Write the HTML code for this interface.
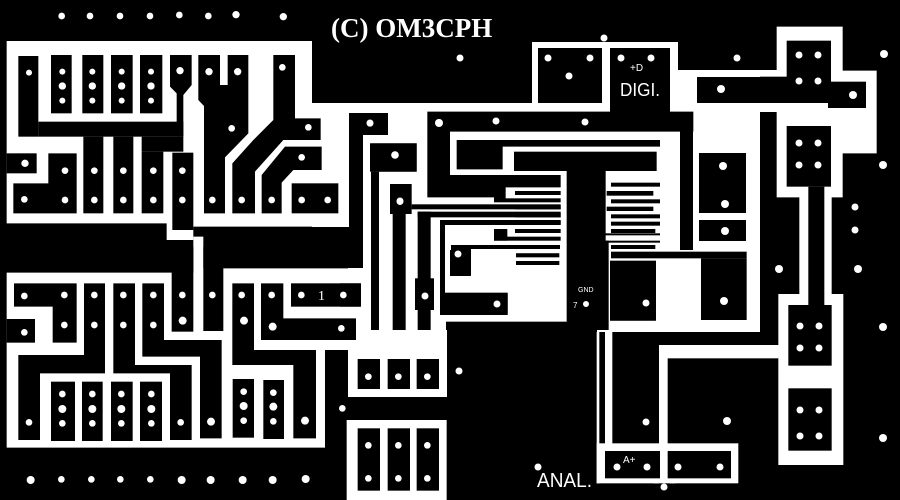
<!DOCTYPE html>
<html><head><meta charset="utf-8"><style>
html,body{margin:0;padding:0;background:#000;}
svg{display:block;}
text{fill:#fff;}
</style></head><body>
<svg width="900" height="500" viewBox="0 0 900 500" xmlns="http://www.w3.org/2000/svg">
<rect width="900" height="500" fill="#000"/>
<g fill="#fff">
  <g transform="scale(0.33333)">
    <polygon points="20,123 936,123 936,310 1045,310 1045,680 580,680 580,720 500,720 500,670 20,670"/>
  </g>
  <rect x="312" y="103" width="448" height="124"/>
  <rect x="348" y="103" width="412" height="229"/>
  <rect x="348" y="330" width="99" height="67"/>
  <rect x="532" y="42" width="146" height="70"/>
  <rect x="678" y="70" width="100" height="42"/>
  <g transform="translate(760,20) scale(0.33333)">
    <polygon points="50,20 248,20 248,152 350,152 350,400 248,400 248,532 215,532 215,822 250,822 250,1335 55,1335 55,1012 0,1012 0,975 55,975 55,822 118,822 118,532 50,532 50,150 0,150 0,275 50,275"/>
  </g>
  <g transform="translate(0,250) scale(0.33333)">
    <polygon points="20,68 580,68 580,-40 610,-40 610,55 1090,55 1090,0 1340,0 1340,440 1045,440 1045,300 975,300 975,593 20,593"/>
    <rect x="1040" y="510" width="300" height="240"/>
  </g>
  <g transform="translate(450,250) scale(0.33333)">
    <rect x="440" y="240" width="8" height="460"/>
    <rect x="465" y="240" width="22" height="345"/>
    <rect x="627" y="285" width="358" height="40"/>
    <rect x="627" y="285" width="26" height="320"/>
    <rect x="440" y="580" width="425" height="120"/>
    <polygon points="610,700 643,670 676,700 660,700 643,686 626,700"/>
  </g>
</g>

<g fill="#000">
  <g transform="scale(0.33333)">
    <rect x="55" y="168" width="60" height="242"/>
    <rect x="115" y="365" width="435" height="45"/>
    <rect x="153" y="165" width="62" height="175"/>
    <rect x="247" y="165" width="63" height="175"/>
    <rect x="333" y="165" width="65" height="175"/>
    <rect x="420" y="165" width="67" height="175"/>
    <polygon points="510,165 575,165 575,255 550,285 550,410 530,410 530,280 510,260"/>
    <rect x="250" y="410" width="60" height="230"/>
    <rect x="340" y="410" width="60" height="230"/>
    <rect x="425" y="410" width="125" height="45"/>
    <rect x="425" y="455" width="65" height="185"/>
    <rect x="517" y="458" width="63" height="232"/>
    <polygon points="40,550 145,550 145,460 230,460 230,640 40,640"/>
    <rect x="20" y="460" width="90" height="60"/>
    <polygon points="595,165 660,165 660,255 683,255 683,165 745,165 745,400 675,472 675,640 612,640 612,318 595,300"/>
    <polygon points="820,165 885,165 885,355 962,355 962,420 850,420 765,515 765,640 697,640 697,490 760,420 820,360"/>
    <polygon points="855,440 965,440 965,510 880,510 845,548 845,640 785,640 785,525"/>
    <rect x="875" y="550" width="140" height="90"/>
    <rect x="1110" y="430" width="140" height="85"/>
  </g>
  <rect x="349" y="113" width="39" height="22"/>
  <rect x="349" y="113" width="14" height="155"/>
  <rect x="330" y="227" width="33" height="41"/>
  <rect x="538" y="48" width="64" height="55"/>
  <rect x="610" y="48" width="60" height="64"/>
  <rect x="697" y="77" width="133" height="26"/>
  <rect x="828" y="82" width="38" height="26"/>
  <g transform="translate(340,110) scale(0.33333)">
    <polygon points="262,5 1060,5 1060,65 330,65 330,195 662,195 662,232 497,232 497,275 462,275 462,262 262,262"/>
    <polygon points="350,90 960,90 960,110 488,110 488,178 350,178"/>
    <rect x="522" y="125" width="428" height="58"/>
    <rect x="680" y="183" width="117" height="477"/>
    <rect x="525" y="243" width="137" height="12"/>
    <rect x="462" y="265" width="200" height="12"/>
    <rect x="525" y="287" width="137" height="11"/>
    <rect x="525" y="310" width="137" height="12"/>
    <rect x="525" y="332" width="137" height="12"/>
    <rect x="525" y="357" width="137" height="12"/>
    <rect x="462" y="357" width="40" height="35"/>
    <rect x="462" y="380" width="200" height="12"/>
    <rect x="528" y="430" width="130" height="12"/>
    <rect x="528" y="453" width="130" height="12"/>
    <rect x="813" y="218" width="147" height="12"/>
    <rect x="800" y="243" width="140" height="14"/>
    <rect x="813" y="268" width="147" height="12"/>
    <rect x="800" y="290" width="140" height="13"/>
    <rect x="813" y="313" width="147" height="12"/>
    <rect x="813" y="335" width="147" height="12"/>
    <rect x="813" y="357" width="133" height="12"/>
    <rect x="813" y="405" width="133" height="12"/>
    <rect x="813" y="428" width="147" height="12"/>
    <rect x="215" y="283" width="447" height="15"/>
    <rect x="233" y="305" width="429" height="17"/>
    <rect x="233" y="305" width="39" height="355"/>
    <rect x="225" y="505" width="57" height="95"/>
    <rect x="300" y="330" width="362" height="15"/>
    <rect x="300" y="330" width="15" height="285"/>
    <rect x="300" y="548" width="203" height="67"/>
    <rect x="333" y="405" width="60" height="92"/>
    <rect x="333" y="405" width="327" height="12"/>
    <rect x="318" y="635" width="362" height="25"/>
    <rect x="810" y="452" width="138" height="180"/>
    <rect x="768" y="370" width="8" height="290"/>
    <rect x="768" y="370" width="192" height="6"/>
    <rect x="796" y="392" width="10" height="268"/>
    <rect x="796" y="392" width="164" height="6"/>
    <rect x="93" y="100" width="137" height="85"/>
    <rect x="93" y="185" width="24" height="475"/>
    <rect x="150" y="222" width="65" height="90"/>
    <rect x="158" y="312" width="39" height="348"/>
    <rect x="0" y="520" width="62" height="70"/>
  </g>
  <rect x="680" y="112" width="13" height="138"/>
  <rect x="699" y="153" width="47" height="60"/>
  <rect x="699" y="220" width="47" height="21"/>
  <rect x="447" y="322" width="150" height="10"/>
  <g transform="translate(450,250) scale(0.33333)">
    <rect x="483" y="5" width="407" height="20"/>
    <rect x="480" y="33" width="137" height="179"/>
    <rect x="753" y="25" width="137" height="185"/>
    <rect x="0" y="0" width="62" height="78"/>
    <rect x="0" y="130" width="173" height="63"/>
    <rect x="198" y="10" width="129" height="10"/>
    <rect x="198" y="33" width="129" height="12"/>
    <rect x="465" y="603" width="165" height="82"/>
    <rect x="653" y="603" width="190" height="82"/>
  </g>
  <g transform="translate(760,20) scale(0.33333)">
    <rect x="80" y="62" width="133" height="186"/>
    <rect x="0" y="170" width="205" height="78"/>
    <rect x="205" y="185" width="113" height="78"/>
    <rect x="80" y="318" width="133" height="182"/>
    <rect x="145" y="500" width="48" height="355"/>
    <rect x="85" y="855" width="130" height="182"/>
    <rect x="85" y="1105" width="130" height="187"/>
  </g>
  <g transform="translate(0,250) scale(0.33333)">
    <polygon points="42,100 230,100 230,278 158,278 158,170 42,170"/>
    <rect x="20" y="207" width="85" height="71"/>
    <polygon points="252,100 315,100 315,370 120,370 120,570 55,570 55,315 252,315"/>
    <polygon points="340,100 405,100 405,345 575,345 575,570 510,570 510,370 340,370"/>
    <polygon points="427,100 492,100 492,270 665,270 665,565 600,565 600,320 427,320"/>
    <rect x="515" y="-10" width="65" height="255"/>
    <rect x="610" y="-10" width="60" height="253"/>
    <polygon points="697,100 762,100 762,300 948,300 948,565 880,565 880,345 697,345"/>
    <polygon points="783,100 850,100 850,205 1068,205 1068,270 783,270"/>
    <rect x="873" y="100" width="210" height="70"/>
    <rect x="153" y="395" width="72" height="178"/>
    <rect x="246" y="395" width="62" height="178"/>
    <rect x="333" y="395" width="65" height="178"/>
    <rect x="420" y="395" width="66" height="178"/>
    <rect x="698" y="387" width="64" height="176"/>
    <rect x="790" y="390" width="62" height="177"/>
    <rect x="1073" y="327" width="67" height="90"/>
    <rect x="1163" y="327" width="67" height="90"/>
    <rect x="1250" y="327" width="67" height="90"/>
    <rect x="1073" y="535" width="67" height="187"/>
    <rect x="1163" y="535" width="67" height="187"/>
    <rect x="1250" y="535" width="67" height="187"/>
  </g>
</g>

<g fill="#fff">
  <g transform="scale(0.33333)">
    <circle cx="185" cy="48" r="10"/><circle cx="270" cy="48" r="10"/><circle cx="360" cy="48" r="10"/><circle cx="450" cy="48" r="10"/><circle cx="538" cy="45" r="10"/><circle cx="625" cy="48" r="10"/><circle cx="708" cy="44" r="11"/><circle cx="850" cy="50" r="11"/>
    <circle cx="87" cy="218" r="9"/>
    <circle cx="187" cy="215" r="9"/><circle cx="187" cy="258" r="11"/><circle cx="187" cy="302" r="9"/>
    <circle cx="277" cy="215" r="9"/><circle cx="277" cy="258" r="11"/><circle cx="277" cy="302" r="9"/>
    <circle cx="365" cy="215" r="9"/><circle cx="365" cy="258" r="11"/><circle cx="365" cy="302" r="9"/>
    <circle cx="453" cy="215" r="9"/><circle cx="453" cy="258" r="11"/><circle cx="453" cy="302" r="9"/>
    <circle cx="540" cy="212" r="11"/><circle cx="627" cy="215" r="11"/><circle cx="713" cy="215" r="11"/><circle cx="847" cy="202" r="10"/>
    <circle cx="695" cy="385" r="10"/><circle cx="925" cy="382" r="10"/><circle cx="905" cy="472" r="10"/>
    <circle cx="75" cy="490" r="11"/><circle cx="195" cy="512" r="10"/><circle cx="283" cy="512" r="10"/><circle cx="370" cy="512" r="10"/><circle cx="460" cy="512" r="10"/><circle cx="547" cy="512" r="10"/>
    <circle cx="73" cy="598" r="10"/><circle cx="195" cy="600" r="10"/><circle cx="283" cy="600" r="10"/><circle cx="370" cy="600" r="10"/><circle cx="460" cy="600" r="10"/><circle cx="547" cy="600" r="10"/><circle cx="637" cy="600" r="10"/><circle cx="725" cy="600" r="10"/><circle cx="815" cy="600" r="10"/><circle cx="905" cy="600" r="10"/><circle cx="983" cy="600" r="10"/>
    <circle cx="1110" cy="370" r="10"/><circle cx="1185" cy="465" r="11"/><circle cx="1200" cy="605" r="10"/><circle cx="1317" cy="368" r="11"/>
  </g>
  <circle cx="370" cy="123" r="3.5"/><circle cx="395" cy="155" r="3.8"/>
  <circle cx="460" cy="58" r="3.5"/><circle cx="548" cy="58" r="3.5"/><circle cx="590" cy="58" r="3.5"/><circle cx="569" cy="76" r="3.5"/><circle cx="604" cy="38" r="3.5"/>
  <circle cx="621" cy="58" r="3.5"/><circle cx="651" cy="58" r="3.5"/><circle cx="737" cy="58" r="3.5"/><circle cx="721" cy="89" r="4"/>
  <circle cx="439" cy="123" r="4"/><circle cx="496" cy="121" r="3.5"/><circle cx="585" cy="122" r="3.5"/>
  <circle cx="400" cy="201" r="3.5"/><circle cx="458" cy="254" r="3.5"/><circle cx="497" cy="304" r="3.5"/><circle cx="425" cy="296" r="3.5"/>
  <circle cx="723" cy="166" r="4"/><circle cx="725" cy="204" r="4"/><circle cx="725" cy="231" r="4"/>
  <circle cx="646" cy="303" r="3.5"/><circle cx="724" cy="301" r="4"/><circle cx="586" cy="304" r="3"/>
  <circle cx="459" cy="371" r="3.5"/><circle cx="646" cy="422" r="3.5"/><circle cx="727" cy="421" r="4"/>
  <circle cx="538" cy="467" r="3.5"/><circle cx="617" cy="467" r="3.5"/><circle cx="647" cy="467" r="3.5"/><circle cx="678" cy="467" r="3.5"/><circle cx="720" cy="467" r="3.5"/><circle cx="664" cy="487" r="3.5"/>
  <circle cx="799" cy="55" r="3.5"/><circle cx="818" cy="55" r="3.5"/><circle cx="799" cy="81" r="3.5"/><circle cx="818" cy="81" r="3.5"/>
  <circle cx="853" cy="95" r="4"/>
  <circle cx="799" cy="143" r="3.5"/><circle cx="818" cy="143" r="3.5"/><circle cx="799" cy="165" r="3.5"/><circle cx="818" cy="165" r="3.5"/>
  <circle cx="800" cy="326" r="3.5"/><circle cx="819" cy="326" r="3.5"/><circle cx="800" cy="348" r="3.5"/><circle cx="819" cy="348" r="3.5"/>
  <circle cx="800" cy="410" r="3.5"/><circle cx="819" cy="410" r="3.5"/><circle cx="800" cy="436" r="3.5"/><circle cx="819" cy="436" r="3.5"/>
  <circle cx="884" cy="54" r="4"/><circle cx="883" cy="165" r="4"/><circle cx="855" cy="207" r="3.5"/><circle cx="855" cy="230" r="3.5"/><circle cx="858" cy="269" r="4"/><circle cx="779" cy="269" r="4"/><circle cx="883" cy="327" r="4"/><circle cx="883" cy="438" r="4"/>
  <g transform="translate(0,250) scale(0.33333)">
    <circle cx="73" cy="138" r="10"/><circle cx="193" cy="135" r="10"/><circle cx="193" cy="225" r="10"/><circle cx="73" cy="247" r="10"/>
    <circle cx="283" cy="135" r="10"/><circle cx="283" cy="225" r="10"/><circle cx="370" cy="135" r="10"/><circle cx="370" cy="225" r="10"/><circle cx="460" cy="135" r="10"/><circle cx="460" cy="225" r="10"/>
    <circle cx="547" cy="135" r="10"/><circle cx="548" cy="212" r="12"/><circle cx="637" cy="135" r="10"/><circle cx="725" cy="135" r="10"/><circle cx="732" cy="212" r="12"/>
    <circle cx="815" cy="135" r="10"/><circle cx="818" cy="230" r="12"/><circle cx="904" cy="135" r="10"/><circle cx="1030" cy="135" r="10"/><circle cx="1024" cy="235" r="10"/>
    <circle cx="87" cy="517" r="10"/><circle cx="542" cy="517" r="10"/><circle cx="633" cy="515" r="12"/><circle cx="915" cy="512" r="12"/>
    <circle cx="187" cy="432" r="10"/><circle cx="187" cy="477" r="12"/><circle cx="187" cy="520" r="10"/>
    <circle cx="277" cy="432" r="10"/><circle cx="277" cy="477" r="12"/><circle cx="277" cy="520" r="10"/>
    <circle cx="364" cy="432" r="10"/><circle cx="364" cy="477" r="12"/><circle cx="364" cy="520" r="10"/>
    <circle cx="454" cy="432" r="10"/><circle cx="454" cy="477" r="12"/><circle cx="454" cy="520" r="10"/>
    <circle cx="731" cy="425" r="10"/><circle cx="731" cy="468" r="12"/><circle cx="731" cy="512" r="10"/>
    <circle cx="820" cy="428" r="10"/><circle cx="820" cy="470" r="12"/><circle cx="820" cy="514" r="10"/>
    <circle cx="1105" cy="380" r="10"/><circle cx="1195" cy="380" r="10"/><circle cx="1282" cy="380" r="10"/>
    <circle cx="1105" cy="586" r="10"/><circle cx="1195" cy="586" r="10"/><circle cx="1282" cy="586" r="10"/>
    <circle cx="1105" cy="685" r="10"/><circle cx="1195" cy="685" r="10"/><circle cx="1282" cy="685" r="10"/>
    <circle cx="1027" cy="475" r="10"/>
    <circle cx="92" cy="690" r="12"/><circle cx="184" cy="688" r="10"/><circle cx="274" cy="688" r="10"/><circle cx="361" cy="688" r="10"/><circle cx="451" cy="688" r="10"/><circle cx="545" cy="690" r="12"/><circle cx="632" cy="690" r="12"/><circle cx="728" cy="690" r="12"/><circle cx="818" cy="690" r="12"/><circle cx="917" cy="687" r="12"/>
  </g>
</g>

<text x="331" y="37" font-family="Liberation Serif, serif" font-weight="bold" font-size="27">(C) OM3CPH</text>
<text x="318" y="300" font-family="Liberation Serif, serif" font-size="14">1</text>
<text x="630" y="71" font-family="Liberation Sans, sans-serif" font-size="10">+D</text>
<text x="620" y="96" font-family="Liberation Sans, sans-serif" font-size="18" textLength="40" lengthAdjust="spacingAndGlyphs">DIGI.</text>
<text x="537" y="487" font-family="Liberation Sans, sans-serif" font-size="20" textLength="55" lengthAdjust="spacingAndGlyphs">ANAL.</text>
<text x="623" y="463" font-family="Liberation Sans, sans-serif" font-size="10">A+</text>
<text x="578" y="292" font-family="Liberation Sans, sans-serif" font-size="7">GND</text>
<text x="573" y="308" font-family="Liberation Sans, sans-serif" font-size="8">7</text>
</svg>
</body></html>
